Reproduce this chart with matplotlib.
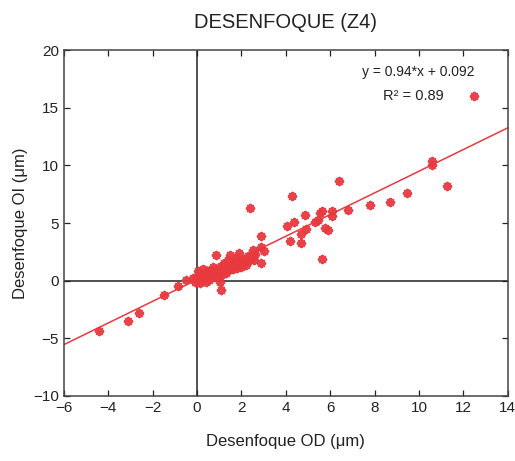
import matplotlib
matplotlib.use("Agg")
import matplotlib.pyplot as plt
import numpy as np

plt.rcParams['font.family'] = ['Liberation Sans', 'DejaVu Sans']

# desenfoque OD (x) vs OI (y), in micrometres
od = [-4.4, -3.1, -2.6, -1.5, -0.85, -0.5, -0.2, -0.1,
      0.0, 0.05, 0.1, 0.15, 0.2, 0.25, 0.3, 0.35, 0.4, 0.45, 0.5, 0.55,
      0.6, 0.65, 0.7, 0.75, 0.8, 0.85, 0.9, 0.95, 1.0, 1.05, 1.1, 1.1,
      1.15, 1.2, 1.25, 1.3, 1.35, 1.4, 1.45, 1.5, 1.55, 1.6, 1.65, 1.7,
      1.75, 1.8, 1.85, 1.9, 1.95, 2.0, 2.05, 2.15, 2.2, 2.3, 2.4, 2.5,
      2.55, 2.55, 2.6, 2.9, 2.9, 2.9, 3.0, 2.4,
      4.3, 4.05, 4.2, 4.35, 4.7, 4.7, 4.85, 4.9, 5.3, 5.45, 5.55, 5.65,
      5.65, 5.75, 5.9, 6.1, 6.1, 6.4, 6.8, 7.8, 8.7, 9.45, 10.6, 10.6,
      11.25, 12.5]
oi = [-4.4, -3.5, -2.8, -1.2, -0.45, 0.05, 0.2, -0.1,
      0.3, 0.8, 0.0, -0.2, 0.5, 1.0, 0.2, 0.6, -0.1, 0.8, 0.4, 0.1,
      0.9, 0.5, 1.2, 0.3, 0.7, 2.2, 1.0, 0.4, 0.8, -0.1, 1.3, -0.8,
      0.6, 1.5, 1.0, 0.7, 1.2, 1.8, 0.9, 2.2, 1.3, 1.0, 1.6, 1.4,
      2.0, 1.1, 1.7, 2.4, 1.5, 1.2, 1.9, 1.65, 1.4, 2.15, 1.8, 2.7,
      1.8, 2.1, 2.3, 3.9, 2.95, 1.5, 2.6, 6.3,
      7.3, 4.7, 3.45, 5.1, 4.05, 3.3, 5.7, 4.45, 5.1, 5.3, 5.85, 6.0,
      1.9, 4.55, 4.4, 6.0, 5.6, 8.6, 6.1, 6.55, 6.85, 7.6, 10.4, 10.05,
      8.25, 16.0]

slope = 0.94
intercept = 0.092
r2 = 0.89

xlim = (-6, 14)
ylim = (-10, 20)

fig = plt.figure(figsize=(5.15, 4.61), dpi=100)
ax = fig.add_axes([0.124, 0.141, 0.862, 0.7505])

red = "#e8393f"
ax.axvline(0, color="#222222", lw=1.1, zorder=1)
ax.axhline(0, color="#222222", lw=1.1, zorder=1)

xs = np.array(xlim)
ax.plot(xs, slope * xs + intercept, color=red, lw=1.1, zorder=2)
ax.scatter(od, oi, marker=(8, 2, 0), s=26, linewidths=1.8, color=red,
           alpha=0.95, zorder=3)

ax.set_xlim(*xlim)
ax.set_ylim(*ylim)
ax.set_xticks(np.arange(-6, 15, 2))
ax.set_yticks(np.arange(-10, 21, 5))
ax.tick_params(direction="in", top=True, right=True, length=4, labelsize=11,
               colors="#222222", width=0.9)
for s in ax.spines.values():
    s.set_color("#444444")
    s.set_linewidth(1.1)

ax.text(7.45, 18.1, "y = %.2f*x + %.3f" % (slope, intercept), fontsize=10,
        va="center", ha="left", color="#222222")
ax.text(8.4, 16.0, "R\u00b2 = %.2f" % r2, fontsize=10.5, va="center",
        ha="left", color="#222222")

ax.set_title("DESENFOQUE (Z4)", fontsize=14.5, pad=16, color="#222222")
ax.set_xlabel("Desenfoque OD (\u03bcm)", fontsize=12, labelpad=14, color="#222222")
ax.set_ylabel("Desenfoque OI (\u03bcm)", fontsize=12, labelpad=4, color="#222222")

fig.savefig("out.png", dpi=100, facecolor="white")
